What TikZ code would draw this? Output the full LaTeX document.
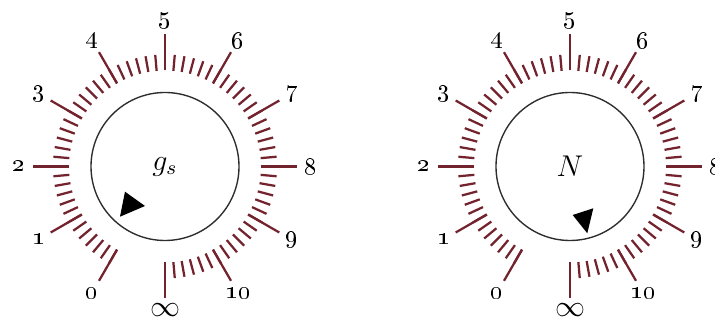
\documentclass[tikz,border=0pt]{standalone}
\usetikzlibrary{calc}
\definecolor{tickred}{RGB}{115,35,45}
\definecolor{rimgray}{RGB}{45,45,45}

\begin{document}
\begin{tikzpicture}[x=0.4pt,y=0.4pt]
    % Frame of the picture
    \useasboundingbox (0,0) rectangle (715,320);

    % Centres of the two dials
    \coordinate (G) at (165,153.5);
    \coordinate (N) at (570,153.5);

    % Scales of both dials
    \foreach \c in {G,N} {
        \foreach \a in {-90,-85,...,240}
            \draw[tickred, line width=0.9pt] ($(\c)+(\a:96)$) -- ($(\c)+(\a:112)$);
        \foreach \a in {-90,-60,...,240}
            \draw[tickred, line width=0.9pt] ($(\c)+(\a:96)$) -- ($(\c)+(\a:132)$);
        \foreach \a/\t in {240/0,210/1,180/2,150/3,120/4,90/5,60/6,30/7,0/8,-30/9,-60/10}
            \node (\c-\t) at ($(\c)+(\a:146)$) {\oldstylenums{\t}};
        \node[font=\large] (\c-inf) at ($(\c)+(-90:144)$) {$\infty$};
        \draw[rimgray, line width=0.55pt] (\c) circle (74);
    }

    % Names in the middle
    \node[font=\large] (gs) at (G) {$g_s$};
    \node[font=\large] (nn) at (N) {$N$};

    % Pointers
    \fill ($(G)+(-40,-25.2)$) -- ($(G)+(-20,-39.5)$) -- ($(G)+(-45,-50.2)$) -- cycle;
    \fill ($(N)+(2.7,-48.5)$) -- ($(N)+(23.3,-41.8)$) -- ($(N)+(17.3,-66.8)$) -- cycle;

\end{tikzpicture}
\end{document}
